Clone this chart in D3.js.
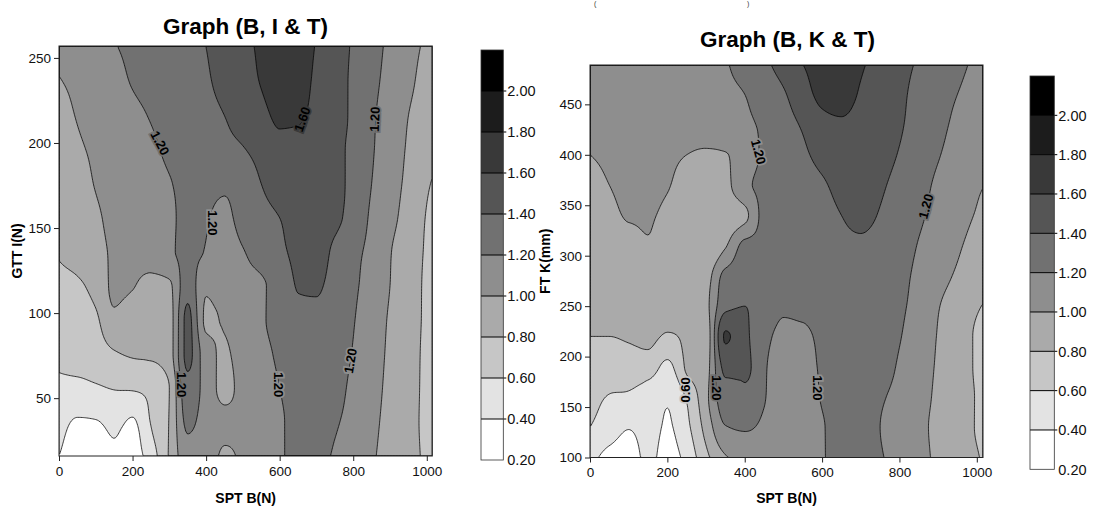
<!DOCTYPE html>
<html><head><meta charset="utf-8">
<script src="https://cdn.jsdelivr.net/npm/d3@7"></script>
<style>
body{margin:0;background:#fff;}
svg{display:block;font-family:"Liberation Sans",Arial,Helvetica,sans-serif;}
</style></head><body>
<svg id="c" width="1096" height="511"></svg>
<script>
// ---------------- data ----------------
const levels = [0.2,0.4,0.6,0.8,1.0,1.2,1.4,1.6,1.8,2.0,2.2];
const levelLabels = ["0.20","0.40","0.60","0.80","1.00","1.20","1.40","1.60","1.80","2.00"];
const bandGrays = [255,227,198,170,142,113,85,57,28,0];

const gridX = [0,50,100,150,200,250,300,350,400,450,500,550,600,650,700,750,800,850,900,950,1000,1050];

// Graph (B, I & T) : rows are GTT I(N) values, columns are SPT B(N) values
const leftGridY = [16,36,56,76,96,116,136,156,176,196,216,236,256];
const leftZ = [
 [0.40,0.30,0.32,0.37,0.33,0.50,0.82,1.12,1.10,0.97,1.03,1.10,1.18,1.24,1.25,1.18,1.10,1.02,0.94,0.86,0.77,0.71],
 [0.47,0.38,0.39,0.44,0.38,0.61,0.81,1.24,1.12,1.05,1.04,1.11,1.18,1.25,1.28,1.22,1.14,1.04,0.95,0.86,0.76,0.70],
 [0.57,0.56,0.58,0.61,0.62,0.65,0.80,1.33,1.12,0.95,1.06,1.12,1.20,1.27,1.30,1.26,1.16,1.06,0.96,0.87,0.76,0.70],
 [0.63,0.66,0.70,0.78,0.82,0.83,0.92,1.45,1.08,0.98,1.08,1.15,1.23,1.30,1.32,1.28,1.19,1.08,0.97,0.88,0.76,0.70],
 [0.69,0.72,0.77,0.96,0.92,0.88,0.93,1.45,0.97,1.02,1.10,1.18,1.26,1.36,1.36,1.30,1.21,1.10,0.98,0.88,0.77,0.70],
 [0.73,0.77,0.86,1.03,1.01,0.93,0.97,1.32,1.03,1.10,1.14,1.18,1.27,1.41,1.42,1.33,1.23,1.13,1.00,0.89,0.77,0.70],
 [0.81,0.87,0.94,1.03,1.07,1.11,1.17,1.25,1.19,1.12,1.19,1.28,1.36,1.45,1.48,1.36,1.25,1.15,1.01,0.90,0.78,0.72],
 [0.81,0.88,0.97,1.05,1.09,1.13,1.17,1.24,1.21,1.16,1.27,1.34,1.40,1.48,1.50,1.44,1.33,1.17,1.05,0.93,0.79,0.72],
 [0.84,0.92,1.01,1.06,1.10,1.14,1.19,1.24,1.24,1.23,1.30,1.40,1.49,1.53,1.50,1.45,1.35,1.20,1.07,0.96,0.82,0.74],
 [0.88,0.97,1.03,1.08,1.12,1.17,1.23,1.27,1.31,1.35,1.39,1.46,1.55,1.55,1.50,1.44,1.36,1.22,1.09,0.98,0.87,0.80],
 [0.93,1.01,1.06,1.11,1.16,1.21,1.26,1.30,1.35,1.40,1.47,1.55,1.63,1.62,1.55,1.46,1.37,1.23,1.11,1.00,0.90,0.82],
 [0.99,1.04,1.09,1.15,1.21,1.25,1.29,1.33,1.38,1.45,1.52,1.61,1.68,1.66,1.57,1.47,1.37,1.25,1.14,1.04,0.93,0.85],
 [1.05,1.09,1.13,1.19,1.23,1.27,1.31,1.36,1.40,1.47,1.55,1.63,1.70,1.67,1.59,1.48,1.38,1.27,1.16,1.06,0.97,0.90]
];

// Graph (B, K & T) : rows are FT K(mm) values, columns are SPT B(N) values
const rightGridY = [100,130,160,190,220,250,280,310,340,370,400,430,460,490];
const rightZ = [
 [0.47,0.33,0.30,0.45,0.33,0.46,0.75,0.98,1.06,1.10,1.10,1.13,1.19,1.24,1.25,1.21,1.15,1.05,0.97,0.90,0.81,0.75],
 [0.60,0.50,0.41,0.47,0.38,0.55,0.87,1.19,1.22,1.17,1.11,1.11,1.19,1.24,1.25,1.20,1.12,1.04,0.96,0.88,0.79,0.73],
 [0.66,0.59,0.57,0.50,0.42,0.62,0.95,1.32,1.33,1.21,1.13,1.13,1.21,1.26,1.27,1.22,1.15,1.06,0.97,0.89,0.79,0.73],
 [0.73,0.70,0.71,0.70,0.55,0.83,0.93,1.45,1.45,1.22,1.15,1.15,1.22,1.27,1.29,1.27,1.18,1.08,0.98,0.89,0.78,0.72],
 [0.80,0.80,0.82,0.85,0.78,0.83,0.90,1.62,1.45,1.25,1.17,1.17,1.24,1.29,1.31,1.29,1.21,1.11,0.99,0.89,0.78,0.72],
 [0.85,0.87,0.88,0.88,0.87,0.84,0.95,1.35,1.40,1.30,1.22,1.24,1.29,1.32,1.33,1.30,1.23,1.14,1.01,0.92,0.82,0.74],
 [0.86,0.89,0.92,0.93,0.90,0.86,0.92,1.26,1.31,1.30,1.27,1.28,1.31,1.34,1.35,1.32,1.25,1.16,1.06,0.98,0.92,0.88],
 [0.87,0.91,0.96,0.99,0.93,0.87,0.84,0.98,1.25,1.27,1.28,1.30,1.33,1.37,1.38,1.35,1.28,1.19,1.10,1.02,0.95,0.90],
 [0.90,0.96,1.01,1.01,0.97,0.90,0.86,0.87,0.95,1.25,1.27,1.30,1.35,1.40,1.43,1.39,1.31,1.23,1.14,1.06,0.99,0.95],
 [0.94,1.00,1.03,1.03,1.01,0.93,0.90,0.95,1.15,1.25,1.28,1.33,1.38,1.44,1.45,1.42,1.35,1.26,1.17,1.10,1.02,0.98],
 [1.00,1.03,1.05,1.06,1.04,1.00,0.97,0.99,1.10,1.23,1.30,1.37,1.45,1.50,1.49,1.45,1.39,1.29,1.21,1.14,1.08,1.04],
 [1.05,1.06,1.07,1.08,1.09,1.10,1.12,1.14,1.17,1.23,1.33,1.42,1.53,1.57,1.52,1.46,1.42,1.32,1.24,1.17,1.12,1.08],
 [1.07,1.08,1.09,1.10,1.11,1.13,1.15,1.17,1.20,1.29,1.38,1.52,1.65,1.68,1.58,1.51,1.44,1.34,1.26,1.20,1.14,1.10],
 [1.08,1.09,1.10,1.11,1.13,1.15,1.17,1.19,1.27,1.36,1.48,1.60,1.67,1.69,1.62,1.54,1.46,1.38,1.31,1.24,1.17,1.12]
];

const xTicks = [0,200,400,600,800,1000];
const leftYTicks = [50,100,150,200,250];
const rightYTicks = [100,150,200,250,300,350,400,450];

const leftContourLabels = [
 {x:275,y:200,t:"1.20",r:62},
 {x:661,y:214,t:"1.60",r:-70},
 {x:858,y:214,t:"1.20",r:-88},
 {x:418,y:153,t:"1.20",r:90},
 {x:333,y:58,t:"1.20",r:90},
 {x:598,y:58,t:"1.20",r:90},
 {x:792,y:72,t:"1.20",r:-80}
];
const rightContourLabels = [
 {x:436,y:403,t:"1.20",r:75},
 {x:868,y:349,t:"1.20",r:-75},
 {x:247,y:167,t:"0.60",r:-90},
 {x:328,y:169,t:"1.20",r:90},
 {x:588,y:169,t:"1.20",r:90}
];

// ---------------- helpers ----------------
const gray = k => { const g = bandGrays[Math.max(0,Math.min(9,k))]; return `rgb(${g},${g},${g})`; };
const bandOf = v => { let k = 0; while (k < 9 && v >= levels[k+1]) k++; return k; };

function monoInterp(xs, ys) {
  const n = xs.length, h = [], d = [];
  for (let k = 0; k < n-1; k++) { h[k] = xs[k+1]-xs[k]; d[k] = (ys[k+1]-ys[k])/h[k]; }
  const m = new Array(n);
  m[0] = d[0]; m[n-1] = d[n-2];
  for (let k = 1; k < n-1; k++) {
    const p = (d[k-1]*h[k] + d[k]*h[k-1])/(h[k-1]+h[k]);
    m[k] = (Math.sign(d[k-1])+Math.sign(d[k]))*Math.min(Math.abs(d[k-1]),Math.abs(d[k]),0.5*Math.abs(p));
  }
  return function(x) {
    if (x <= xs[0]) return ys[0];
    if (x >= xs[n-1]) return ys[n-1];
    let k = d3.bisectRight(xs, x) - 1; if (k > n-2) k = n-2;
    const t = (x - xs[k])/h[k], t2 = t*t, t3 = t2*t;
    return (2*t3-3*t2+1)*ys[k] + (t3-2*t2+t)*h[k]*m[k] + (-2*t3+3*t2)*ys[k+1] + (t3-t2)*h[k]*m[k+1];
  };
}

function field(gx, gy, Z, xDom, yDom, nx, ny) {
  const xsF = d3.range(nx).map(i => xDom[0] + (i+0.5)/nx*(xDom[1]-xDom[0]));
  const ysF = d3.range(ny).map(j => yDom[1] - (j+0.5)/ny*(yDom[1]-yDom[0]));
  const rowVals = Z.map(row => { const f = monoInterp(gx, row); return xsF.map(f); });
  const out = new Float64Array(nx*ny);
  for (let i = 0; i < nx; i++) {
    const f = monoInterp(gy, rowVals.map(r => r[i]));
    for (let j = 0; j < ny; j++) out[i + j*nx] = f(ysF[j]);
  }
  return out;
}

const svg = d3.select("#c");
const FONT = '"Liberation Sans",Arial,Helvetica,sans-serif';

function drawPanel(c) {
  const W = c.x1 - c.x0, H = c.y1 - c.y0;
  const xs = d3.scaleLinear().domain(c.xDom).range([c.x0, c.x1]);
  const ys = d3.scaleLinear().domain(c.yDom).range([c.y1, c.y0]);
  const nx = Math.round(W/1.5), ny = Math.round(H/1.5);
  const vals = field(gridX, c.gridY, c.Z, c.xDom, c.yDom, nx, ny);
  const contours = d3.contours().size([nx, ny]).thresholds(levels)(vals);
  const proj = d3.geoTransform({point(px, py) { this.stream.point(c.x0 + px*W/nx, c.y0 + py*H/ny); }});
  const path = d3.geoPath(proj);

  svg.append("clipPath").attr("id", "clip"+c.id)
    .append("rect").attr("x", c.x0).attr("y", c.y0).attr("width", W).attr("height", H);
  const g = svg.append("g").attr("clip-path", `url(#clip${c.id})`);
  g.selectAll("path.f").data(contours).join("path").attr("class","f")
    .attr("d", path).attr("fill", (d,i) => gray(i)).attr("stroke", "none");
  g.selectAll("path.l").data(contours.slice(1, 10)).join("path").attr("class","l")
    .attr("d", path).attr("fill", "none").attr("stroke", "#000").attr("stroke-width", 0.75);

  // contour labels
  const valueAt = (dx, dy) => {
    const i = Math.max(0, Math.min(nx-1, Math.floor((xs(dx)-c.x0)/W*nx)));
    const j = Math.max(0, Math.min(ny-1, Math.floor((ys(dy)-c.y0)/H*ny)));
    return vals[i + j*nx];
  };
  g.selectAll("text.cl").data(c.labels).join("text").attr("class","cl")
    .attr("transform", d => `translate(${xs(d.x)},${ys(d.y)}) rotate(${d.r})`)
    .attr("text-anchor", "middle").attr("dy", "0.36em")
    .attr("font-size", 13).attr("font-weight", "bold").attr("font-family", FONT)
    .attr("fill", "#000")
    .attr("stroke", d => gray(bandOf(valueAt(d.x, d.y))))
    .attr("stroke-width", 3.5).attr("paint-order", "stroke")
    .text(d => d.t);

  // frame
  svg.append("rect").attr("x", c.x0).attr("y", c.y0).attr("width", W).attr("height", H)
    .attr("fill", "none").attr("stroke", "#222").attr("stroke-width", 1);

  // axes
  const ax = svg.append("g").attr("transform", `translate(0,${c.y1})`)
    .call(d3.axisBottom(xs).tickValues(xTicks).tickSize(5).tickPadding(5).tickFormat(d3.format("d")));
  ax.select(".domain").remove();
  ax.attr("font-size", 13.5).attr("font-family", FONT);
  ax.selectAll("text").attr("fill", "#111");
  ax.selectAll("line").attr("stroke", "#222");

  const ay = svg.append("g").attr("transform", `translate(${c.x0},0)`)
    .call(d3.axisLeft(ys).tickValues(c.yTicks).tickSize(5).tickPadding(3).tickFormat(d3.format("d")));
  ay.select(".domain").remove();
  ay.attr("font-size", 13.5).attr("font-family", FONT);
  ay.selectAll("text").attr("fill", "#111");
  ay.selectAll("line").attr("stroke", "#222");

  // titles and axis labels
  svg.append("text").attr("x", c.titleX).attr("y", c.titleY).attr("text-anchor", "middle")
    .attr("font-size", 22.5).attr("font-weight", "bold").attr("font-family", FONT).text(c.title);
  svg.append("text").attr("x", (c.x0 + c.x1)/2).attr("y", 503).attr("text-anchor", "middle")
    .attr("font-size", 14).attr("font-weight", "bold").attr("font-family", FONT).text("SPT B(N)");
  svg.append("text").attr("transform", `translate(${c.yLabelX},${(c.y0 + c.y1)/2}) rotate(-90)`)
    .attr("text-anchor", "middle").attr("font-size", 14).attr("font-weight", "bold")
    .attr("font-family", FONT).text(c.yLabel);

  // colour bar
  const cb = c.cb;
  const cs = d3.scaleLinear().domain([0.2, 2.2]).range([cb.y1, cb.y0]);
  const gb = svg.append("g");
  gb.selectAll("rect.b").data(d3.range(10)).join("rect").attr("class","b")
    .attr("x", cb.x0).attr("width", cb.x1 - cb.x0)
    .attr("y", k => cs(levels[k+1])).attr("height", k => cs(levels[k]) - cs(levels[k+1]))
    .attr("fill", k => gray(k));
  gb.selectAll("line.b").data(levels.slice(1, 10)).join("line").attr("class","b")
    .attr("x1", cb.x0).attr("x2", cb.x1 + 3).attr("y1", d => cs(d)).attr("y2", d => cs(d))
    .attr("stroke", "#000").attr("stroke-width", 1);
  gb.append("rect").attr("x", cb.x0).attr("y", cb.y0).attr("width", cb.x1 - cb.x0).attr("height", cb.y1 - cb.y0)
    .attr("fill", "none").attr("stroke", "#333").attr("stroke-width", 0.8);
  gb.selectAll("text").data(levelLabels).join("text")
    .attr("x", cb.x1 + 4).attr("y", (d,k) => cs(levels[k])).attr("dy", "0.36em")
    .attr("font-size", 14.5).attr("font-family", FONT).attr("fill", "#111").text(d => d);
}

drawPanel({
  id: "L", x0: 59, x1: 432.3, y0: 46, y1: 456, xDom: [0, 1015], yDom: [16, 257],
  gridY: leftGridY, Z: leftZ, yTicks: leftYTicks,
  title: "Graph (B, I & T)", titleX: 245.5, titleY: 33.5,
  yLabel: "GTT I(N)", yLabelX: 22,
  cb: {x0: 481, x1: 503.3, y0: 50, y1: 460},
  labels: leftContourLabels
});
drawPanel({
  id: "R", x0: 590, x1: 983, y0: 65, y1: 457.5, xDom: [0, 1016], yDom: [100, 489],
  gridY: rightGridY, Z: rightZ, yTicks: rightYTicks,
  title: "Graph (B, K & T)", titleX: 787.5, titleY: 47,
  yLabel: "FT K(mm)", yLabelX: 550,
  cb: {x0: 1030, x1: 1054.3, y0: 76, y1: 469.3},
  labels: rightContourLabels
});

// remnants of a caption line at the very top of the page
svg.append("text").attr("x", 594).attr("y", 6).attr("font-size", 7).attr("fill", "#333").attr("font-family", FONT).text("(");
svg.append("text").attr("x", 747).attr("y", 6).attr("font-size", 7).attr("fill", "#333").attr("font-family", FONT).text(")");
</script>
</body></html>
